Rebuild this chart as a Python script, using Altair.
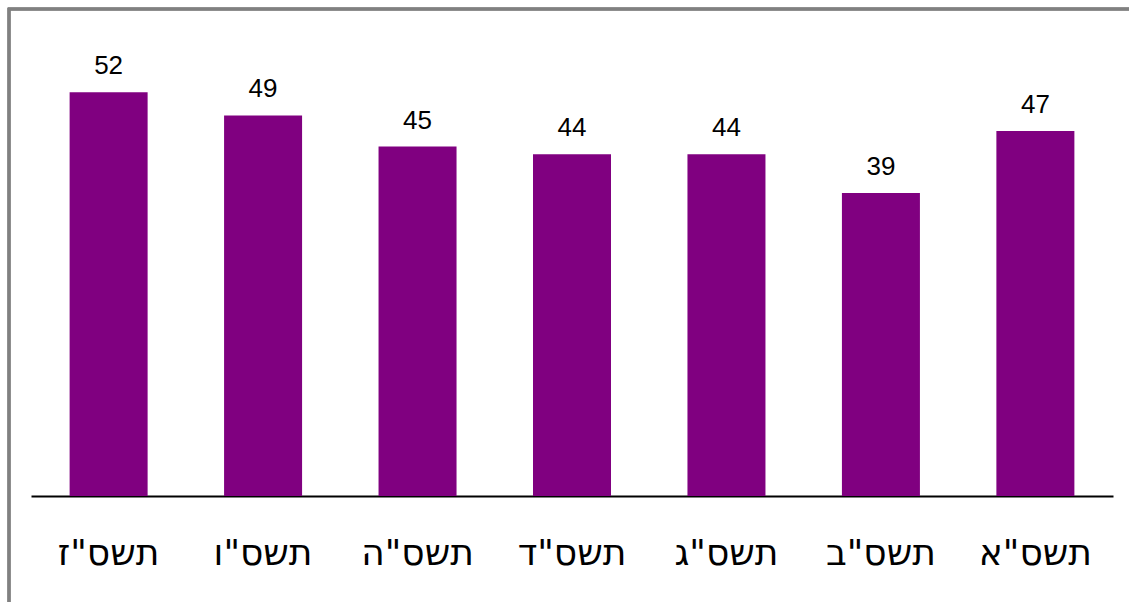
import altair as alt
import pandas as pd

years = ['תשס"ז', 'תשס"ו', 'תשס"ה', 'תשס"ד', 'תשס"ג', 'תשס"ב', 'תשס"א']
values = [52, 49, 45, 44, 44, 39, 47]

df = pd.DataFrame({"year": years, "value": values})

x = alt.X("year:N", sort=years, title=None,
          scale=alt.Scale(paddingInner=0.495, paddingOuter=0.25),
          axis=alt.Axis(labelAngle=0, labelFontSize=36, labelFont="DejaVu Sans",
                        labelColor="black", ticks=False, domainColor="black",
                        domainWidth=2, labelPadding=40, grid=False))
y = alt.Y("value:Q", scale=alt.Scale(domain=[0, 60]), axis=None)

bars = alt.Chart(df).mark_bar(color="#800080").encode(x=x, y=y)
text = alt.Chart(df).mark_text(baseline="alphabetic", dy=-18, fontSize=26,
                               font="Liberation Sans", color="black").encode(
    x=x, y=y, text="value:Q")

frame = alt.Chart(df).mark_rect(fill=None, stroke="#808080", strokeWidth=2.5).encode(
    x=alt.value(-22), x2=alt.value(1300), y=alt.value(-21), y2=alt.value(800))

chart = alt.layer(frame, bars, text).properties(
    width=1082, height=466,
    autosize=alt.AutoSizeParams(type="none"),
    padding={"left": 31, "top": 30, "right": 16, "bottom": 106},
).configure(background="white").configure_view(strokeWidth=0, stroke="transparent")

chart.save("out.html", embed_options={"renderer": "svg", "actions": False})
